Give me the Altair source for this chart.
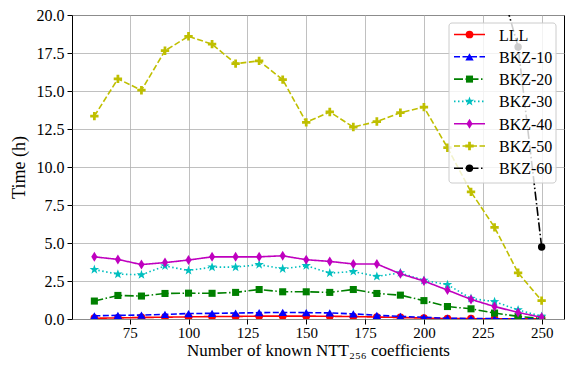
import altair as alt
import pandas as pd
import math

x_vals = [60, 70, 80, 90, 100, 110, 120, 130, 140, 150, 160, 170, 180, 190, 200, 210, 220, 230, 240, 250]

lll = [0.05, 0.07, 0.10, 0.12, 0.14, 0.16, 0.17, 0.19, 0.19, 0.19, 0.18, 0.16, 0.13, 0.10, 0.06, 0.03, 0.02, 0.01, 0.01, 0.01]
bkz10 = [0.21, 0.24, 0.26, 0.30, 0.36, 0.37, 0.39, 0.42, 0.43, 0.42, 0.40, 0.34, 0.24, 0.17, 0.11, 0.05, 0.03, 0.02, 0.01, 0.01]
bkz20 = [1.18, 1.55, 1.51, 1.68, 1.70, 1.69, 1.75, 1.94, 1.79, 1.79, 1.75, 1.94, 1.68, 1.57, 1.21, 0.82, 0.67, 0.39, 0.17, 0.04]
bkz30 = [3.25, 2.95, 2.91, 3.49, 3.19, 3.41, 3.41, 3.58, 3.30, 3.51, 3.02, 3.12, 2.80, 3.04, 2.54, 2.26, 1.35, 1.14, 0.60, 0.17]
bkz40 = [4.09, 3.92, 3.58, 3.71, 3.88, 4.09, 4.09, 4.09, 4.16, 3.90, 3.79, 3.62, 3.62, 2.97, 2.50, 1.90, 1.29, 0.82, 0.43, 0.11]
bkz50 = [13.35, 15.80, 15.05, 17.65, 18.60, 18.08, 16.80, 16.98, 15.75, 12.94, 13.62, 12.63, 12.99, 13.57, 13.94, 11.27, 8.36, 6.03, 3.04, 1.21]
bkz60_x = [230, 240, 250]
bkz60 = [23.4, 17.9, 4.74]

names = ["LLL", "BKZ-10", "BKZ-20", "BKZ-30", "BKZ-40", "BKZ-50", "BKZ-60"]
colors = ["#ff0000", "#0000ff", "#008000", "#00bfbf", "#bf00bf", "#bfbf00", "#000000"]

FONT = "'Liberation Serif', 'Times New Roman', Times, 'DejaVu Serif', serif"

# marker shapes (style only)
star_pts = []
for k in range(10):
    r = 1.0 if k % 2 == 0 else 0.4
    a = math.pi / 2 + k * math.pi / 5
    star_pts.append((r * math.cos(a), -r * math.sin(a)))
star_path = "M" + "L".join(f"{px:.3f},{py:.3f}" for px, py in star_pts) + "Z"
thin_diamond = "M0,-1L0.62,0L0,1L-0.62,0Z"
plus_filled = "M-0.33,-1L0.33,-1L0.33,-0.33L1,-0.33L1,0.33L0.33,0.33L0.33,1L-0.33,1L-0.33,0.33L-1,0.33L-1,-0.33L-0.33,-0.33Z"

styles = {
    "LLL": dict(dash=[1, 0], shape="circle", size=60),
    "BKZ-10": dict(dash=[6, 2.5], shape="triangle-up", size=70),
    "BKZ-20": dict(dash=[9, 2.5, 1.5, 2.5], shape="square", size=50),
    "BKZ-30": dict(dash=[1.5, 2.5], shape=star_path, size=100),
    "BKZ-40": dict(dash=[1, 0], shape=thin_diamond, size=100),
    "BKZ-50": dict(dash=[6, 2.5], shape=plus_filled, size=70),
    "BKZ-60": dict(dash=[9, 2.5, 1.5, 2.5], shape="circle", size=55),
}

series_x = [x_vals] * 6 + [bkz60_x]
series_y = [lll, bkz10, bkz20, bkz30, bkz40, bkz50, bkz60]

W, H = 492, 304
xscale = alt.Scale(domain=[50.5, 259.5], nice=False, zero=False)
yscale = alt.Scale(domain=[0, 20], nice=False)

xaxis = alt.Axis(values=[75, 100, 125, 150, 175, 200, 225, 250],
                 title="Number of known NTT₂₅₆ coefficients",
                 grid=True, gridColor="#b0b0b0", gridWidth=0.8,
                 labelFont=FONT, labelFontSize=15, labelColor="black",
                 titleFont=FONT, titleFontSize=17, titleFontWeight="normal", titleColor="black",
                 tickColor="black", tickSize=5, labelPadding=1, titlePadding=2,
                 domain=False)
yaxis = alt.Axis(values=[0, 2.5, 5, 7.5, 10, 12.5, 15, 17.5, 20], format=".1f",
                 title="Time (h)",
                 grid=True, gridColor="#b0b0b0", gridWidth=0.8,
                 labelFont=FONT, labelFontSize=16, labelColor="black",
                 titleFont=FONT, titleFontSize=18, titleFontWeight="normal", titleColor="black",
                 tickColor="black", tickSize=5, labelPadding=3, titlePadding=8,
                 domain=False)

layers = []
for name, col, xs, ys in zip(names, colors, series_x, series_y):
    st = styles[name]
    df = pd.DataFrame({"x": xs, "y": ys})
    enc = dict(x=alt.X("x:Q", scale=xscale, axis=xaxis), y=alt.Y("y:Q", scale=yscale, axis=yaxis))
    layers.append(alt.Chart(df).mark_line(color=col, strokeWidth=1.6, strokeDash=st["dash"], clip=True).encode(**enc))
    layers.append(alt.Chart(df).mark_point(shape=st["shape"], size=st["size"], filled=True, color=col,
                                           opacity=1, clip=True).encode(**enc))

# legend (inside plot, upper right)
legend_df = pd.DataFrame({"n": [0]})
lx1 = W - 8
lx0 = lx1 - 107
ly0, ly1 = 8, 168
layers.append(alt.Chart(legend_df).mark_rect(fill="white", fillOpacity=0.8, stroke="#cccccc",
                                              strokeWidth=1, cornerRadius=3).encode(
    x=alt.value(lx0), x2=alt.value(lx1), y=alt.value(ly0), y2=alt.value(ly1)))
for i, (name, col) in enumerate(zip(names, colors)):
    st = styles[name]
    yy = 19.5 + 22.3 * i
    layers.append(alt.Chart(legend_df).mark_rule(color=col, strokeWidth=1.6, strokeDash=st["dash"]).encode(
        x=alt.value(lx0 + 5), x2=alt.value(lx0 + 36), y=alt.value(yy)))
    layers.append(alt.Chart(legend_df).mark_point(shape=st["shape"], size=st["size"], filled=True,
                                                   color=col, opacity=1).encode(
        x=alt.value(lx0 + 20.5), y=alt.value(yy)))
    layers.append(alt.Chart(legend_df).mark_text(text=name, font=FONT, fontSize=16, align="left",
                                                 baseline="middle", color="black").encode(
        x=alt.value(lx0 + 50), y=alt.value(yy + 1)))

chart = alt.layer(*layers).properties(
    width=W, height=H,
    autosize=alt.AutoSizeParams(type="none"),
    padding={"left": 64, "top": 7, "right": 2, "bottom": 42},
    background="white",
).configure_view(stroke="black", strokeWidth=1)

chart.save("out.html", embed_options={"renderer": "svg", "actions": False})
